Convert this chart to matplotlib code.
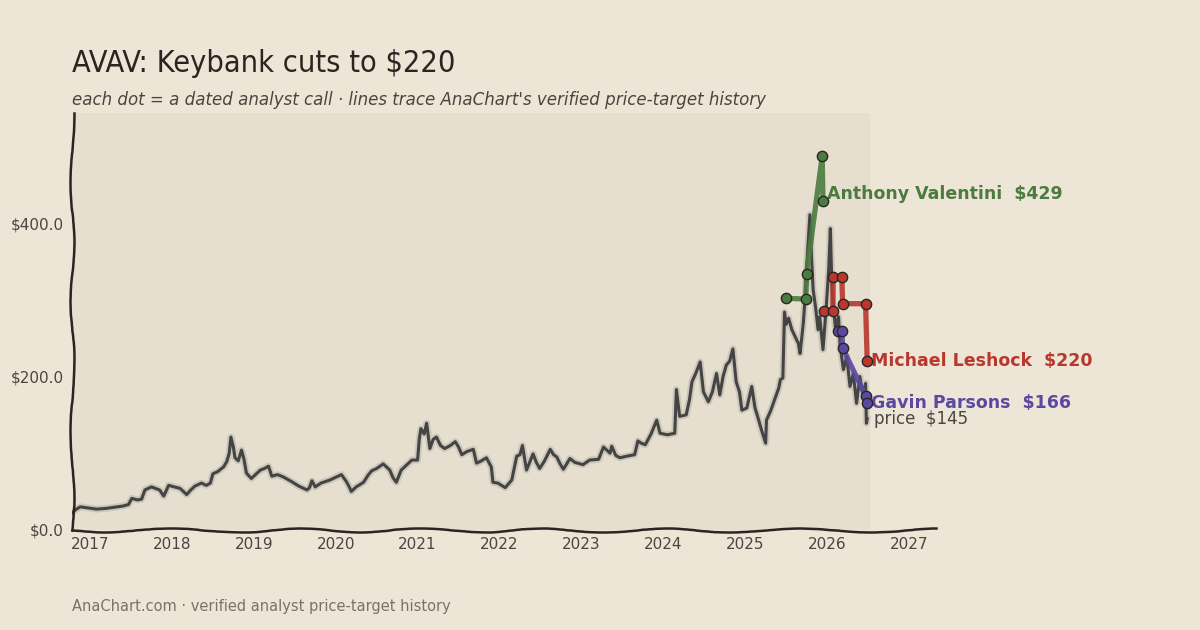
import matplotlib
matplotlib.use("Agg")
import matplotlib.pyplot as plt
import matplotlib.patheffects as pe

# ---- data (decimal years, USD) ----
price_t = [2016.78, 2016.82, 2016.88, 2016.95, 2017.08, 2017.20, 2017.33, 2017.40, 2017.47, 2017.51,
           2017.58, 2017.63, 2017.67, 2017.75, 2017.80, 2017.85, 2017.90, 2017.96, 2018.03, 2018.10,
           2018.14, 2018.18, 2018.23, 2018.28, 2018.36, 2018.42, 2018.47, 2018.50, 2018.56, 2018.63,
           2018.67, 2018.70, 2018.72, 2018.75, 2018.77, 2018.81, 2018.85, 2018.88, 2018.91, 2018.97,
           2019.02, 2019.08, 2019.13, 2019.18, 2019.22, 2019.29, 2019.36, 2019.41, 2019.46, 2019.55,
           2019.65, 2019.68, 2019.71, 2019.75, 2019.82, 2019.93, 2020.03, 2020.07, 2020.13, 2020.17,
           2020.19, 2020.25, 2020.34, 2020.40, 2020.44, 2020.50, 2020.58, 2020.66, 2020.70, 2020.74,
           2020.80, 2020.87, 2020.93, 2021.00, 2021.02, 2021.04, 2021.08, 2021.11, 2021.15, 2021.19,
           2021.23, 2021.28, 2021.33, 2021.40, 2021.46, 2021.50, 2021.54, 2021.60, 2021.68, 2021.72,
           2021.78, 2021.84, 2021.90, 2021.92, 2021.98, 2022.07, 2022.15, 2022.21, 2022.25, 2022.28,
           2022.33, 2022.41, 2022.45, 2022.49, 2022.55, 2022.62, 2022.66, 2022.70, 2022.74, 2022.78,
           2022.86, 2022.92, 2023.02, 2023.10, 2023.21, 2023.27, 2023.31, 2023.35, 2023.37, 2023.42,
           2023.47, 2023.55, 2023.65, 2023.69, 2023.73, 2023.78, 2023.85, 2023.92, 2023.96, 2024.05,
           2024.14, 2024.16, 2024.20, 2024.28, 2024.32, 2024.35, 2024.40, 2024.45, 2024.49, 2024.55,
           2024.60, 2024.65, 2024.69, 2024.73, 2024.77, 2024.81, 2024.85, 2024.89, 2024.93, 2024.96,
           2025.02, 2025.08, 2025.12, 2025.16, 2025.20, 2025.25, 2025.26, 2025.31, 2025.36, 2025.41,
           2025.43, 2025.46, 2025.48, 2025.50, 2025.53, 2025.57, 2025.61, 2025.65, 2025.67, 2025.71,
           2025.73, 2025.75, 2025.79, 2025.81, 2025.83, 2025.86, 2025.89, 2025.91, 2025.95, 2025.99,
           2026.02, 2026.04, 2026.06, 2026.10, 2026.14, 2026.16, 2026.20, 2026.24, 2026.28, 2026.32,
           2026.36, 2026.40, 2026.44, 2026.47, 2026.48, 2026.49]
price_v = [22, 26, 30, 29, 27, 28, 30, 31, 33, 41,
           39, 40, 52, 56, 54, 52, 44, 58, 56, 54,
           50, 46, 52, 57, 61, 58, 61, 73, 76, 82,
           89, 100, 121, 108, 94, 90, 104, 92, 74, 67,
           72, 78, 80, 83, 70, 72, 69, 66, 63, 57,
           52, 55, 64, 56, 61, 65, 70, 72, 63, 55,
           50, 56, 62, 72, 77, 80, 86, 78, 68, 62,
           78, 85, 91, 91, 118, 132, 125, 139, 106, 118,
           121, 110, 106, 110, 115, 108, 98, 102, 105, 87,
           90, 94, 82, 62, 61, 55, 65, 96, 98, 110,
           78, 99, 88, 80, 90, 105, 98, 95, 86, 79,
           93, 88, 85, 91, 92, 108, 104, 100, 109, 97,
           94, 96, 98, 116, 113, 111, 125, 143, 126, 124,
           126, 183, 148, 150, 170, 193, 205, 219, 180, 167,
           180, 204, 176, 200, 215, 220, 236, 193, 180, 156,
           159, 187, 159, 145, 130, 113, 143, 155, 170, 185,
           196, 198, 284, 268, 276, 261, 252, 243, 230, 270,
           300, 343, 411, 356, 313, 290, 261, 278, 235, 291,
           340, 393, 313, 265, 278, 239, 209, 226, 187, 204,
           165, 200, 174, 191, 139, 145]

analysts = ["Anthony Valentini", "Michael Leshock", "Gavin Parsons"]
colors = ["#4b7b3f", "#b8382d", "#5a48a3"]
calls_t = [
    [2025.50, 2025.74, 2025.75, 2025.94, 2025.95],
    [2025.96, 2026.07, 2026.075, 2026.18, 2026.19, 2026.47, 2026.49],
    [2026.13, 2026.18, 2026.19, 2026.47, 2026.49],
]
calls_v = [
    [302, 301, 334, 487, 429],
    [285, 285, 330, 330, 295, 295, 220],
    [259, 259, 237, 175, 166],
]
label_dy = [5, 0, 0]

years = list(range(2017, 2028))
yticks = [0, 200, 400]

bg = "#ede6d6"
ink = "#4a4540"

fig = plt.figure(figsize=(12, 6.3), dpi=100, facecolor=bg)
ax = fig.add_axes([0.06, 0.159, 0.72, 0.662])
ax.set_facecolor(bg)
ax.set_xlim(2016.78, 2027.33)
ax.set_ylim(0, 544)

# shaded "paper" over the data range
ax.axvspan(2016.78, price_t[-1] + 0.03, color="#e6dfcf", zorder=0, lw=0)

ax.plot(price_t, price_v, color="#444444", lw=2.2, zorder=2, solid_joinstyle="round",
        path_effects=[pe.Stroke(linewidth=5, foreground="#444444", alpha=0.15), pe.Normal()])

for name, c, tt, vv, dy in zip(analysts, colors, calls_t, calls_v, label_dy):
    ax.plot(tt, vv, color=c, lw=3.8, alpha=0.9, zorder=3, solid_capstyle="round")
    ax.scatter(tt, vv, s=55, color=c, edgecolor="#2a2522", linewidth=1.0, zorder=4)
    ax.annotate(f"{name}  ${vv[-1]}", xy=(tt[-1], vv[-1]), xytext=(3, dy),
                textcoords="offset points", va="center", ha="left",
                color=c, fontsize=12.5, fontweight="bold", annotation_clip=False)

ax.annotate(f"price  ${price_v[-1]}", xy=(price_t[-1], price_v[-1]), xytext=(5, 0),
            textcoords="offset points", va="center", ha="left",
            color=ink, fontsize=12, annotation_clip=False)

ax.set_xticks(years)
ax.set_xticklabels([str(y) for y in years])
ax.set_yticks(yticks)
ax.set_yticklabels([f"${v:.1f}" for v in yticks])
ax.tick_params(length=0, labelsize=11, colors=ink, pad=5)
ax.tick_params(axis="y", pad=6)

for s in ["top", "right"]:
    ax.spines[s].set_visible(False)
for s in ["left", "bottom"]:
    ax.spines[s].set_color("#2a2522")
    ax.spines[s].set_linewidth(1.8)
    ax.spines[s].set_sketch_params(scale=2.0, length=160, randomness=3)

fig.text(0.06, 0.9, "AVAV: Keybank cuts to $220", fontsize=22, color="#2a2522",
         va="center", ha="left", family=["DejaVu Sans"], fontstretch="condensed")
fig.text(0.06, 0.841,
         "each dot = a dated analyst call \u00b7 lines trace AnaChart's verified price-target history",
         fontsize=13.3, style="italic", color=ink, va="center", ha="left",
         family=["DejaVu Sans"], fontstretch="condensed")
fig.text(0.06, 0.038, "AnaChart.com \u00b7 verified analyst price-target history",
         fontsize=10.5, color="#7a7268", va="center", ha="left")

fig.savefig("out.png", dpi=100, facecolor=bg)
